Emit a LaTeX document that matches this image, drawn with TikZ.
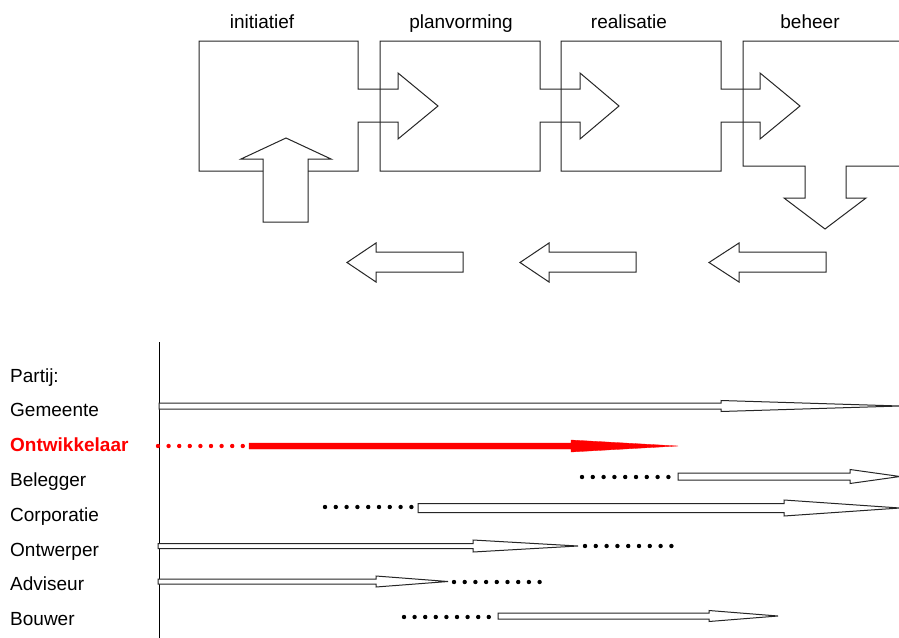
\documentclass[tikz,border=0pt]{standalone}
\usepackage{fontspec}
\setmainfont{Liberation Sans}
\begin{document}
\begin{tikzpicture}[x=1pt,y=-1pt,
  outline/.style={draw=black!85,line width=1pt,line join=miter},
  hollow/.style={draw=black!85,fill=white,line width=1pt,line join=miter},
  phase/.style={font=\fontsize{19}{22}\selectfont,anchor=base,inner sep=0pt},
  party/.style={font=\fontsize{19}{22}\selectfont,anchor=base west,inner sep=0pt}]
\useasboundingbox[fill=white] (0,0) rectangle (899,637);
\clip (0,0) rectangle (899,637);

% hollow arrow: start x, head base x, tip x, centre y, shaft half width, head half width
\newcommand{\partyarrow}[7][hollow]{%
  \draw[#1] (#2,#5-#6) -- (#3,#5-#6) -- (#3,#5-#7) -- (#4,#5)
    -- (#3,#5+#7) -- (#3,#5+#6) -- (#2,#5+#6) -- cycle;}
% row of nine dots: first x, spacing, y, colour
\newcommand{\dotrow}[4]{%
  \foreach \k in {0,...,8} \fill[#4] (#1+\k*#2,#3) circle (2.2pt);}

% ---- phases ----
\node[phase] (t1) at (262,28) {initiatief};
\node[phase] (t2) at (461,28) {planvorming};
\node[phase] (t3) at (629,28) {realisatie};
\node[phase] (t4) at (810,28) {beheer};

% initiatief box with outgoing arrow (bottom left open for the input arrow)
\draw[outline] (263,171) -- (199,171) -- (199,41) -- (358,41) -- (358,89)
  -- (398,89) -- (398,73) -- (438,106) -- (398,139) -- (398,122) -- (358,122)
  -- (358,171) -- (308,171);
% input arrow
\draw[outline] (263,222) -- (263,159) -- (241,159) -- (286,138) -- (331,159)
  -- (308,159) -- (308,222) -- cycle;
% planvorming
\draw[outline] (380,41) -- (540,41) -- (540,89) -- (580,89) -- (580,73)
  -- (619,106) -- (580,139) -- (580,122) -- (540,122) -- (540,171)
  -- (380,171) -- cycle;
% realisatie
\draw[outline] (561,41) -- (721,41) -- (721,89) -- (760,89) -- (760,73)
  -- (800,106) -- (760,139) -- (760,122) -- (721,122) -- (721,171)
  -- (561,171) -- cycle;
% beheer with downward output arrow
\draw[outline] (905,41) -- (743,41) -- (743,166) -- (805,166) -- (805,198)
  -- (784,198) -- (825,229) -- (866,198) -- (846,198) -- (846,166) -- (905,166);

% feedback arrows
\draw[outline] (463,252) -- (376,252) -- (376,243) -- (347,262.5) -- (376,282)
  -- (376,272) -- (463,272) -- cycle;
\draw[outline] (636,252) -- (549,252) -- (549,243) -- (520,262.5) -- (549,282)
  -- (549,272) -- (636,272) -- cycle;
\draw[outline] (826,252) -- (739,252) -- (739,243) -- (709,262.5) -- (739,282)
  -- (739,272) -- (826,272) -- cycle;

% ---- parties ----
\draw[black,line width=1pt] (159.5,342) -- (159.5,640);

\node[party] (p0) at (10,382) {Partij:};
\node[party] (p1) at (10,416.5) {Gemeente};
\node[party,text=red] (p2) at (10,451) {\bfseries Ontwikkelaar};
\node[party] (p3) at (10,486) {Belegger};
\node[party] (p4) at (10,521) {Corporatie};
\node[party] (p5) at (10,556) {Ontwerper};
\node[party] (p6) at (10,590.5) {Adviseur};
\node[party] (p7) at (10,625) {Bouwer};

% Gemeente
\partyarrow{159}{721}{900}{406}{3}{5.5}
% Ontwikkelaar
\dotrow{158}{10.6}{446}{red}
\partyarrow[fill=red,draw=red,line width=0.3pt]{249}{571}{678}{446}{3}{6}
% Belegger
\dotrow{582}{10.8}{477}{black}
\partyarrow{678}{850}{900}{476.5}{3.5}{7}
% Corporatie
\dotrow{325}{10.8}{507}{black}
\partyarrow{418}{784}{900}{508}{4.5}{8}
% Ontwerper
\partyarrow{158}{473}{578}{546}{2.5}{6}
\dotrow{585}{10.8}{546}{black}
% Adviseur
\partyarrow{158}{376}{448}{581.5}{2.5}{5.5}
\dotrow{454}{10.7}{582}{black}
% Bouwer
\dotrow{404}{10.6}{617}{black}
\partyarrow{498}{709}{778}{616}{3}{5.5}
\end{tikzpicture}
\end{document}
